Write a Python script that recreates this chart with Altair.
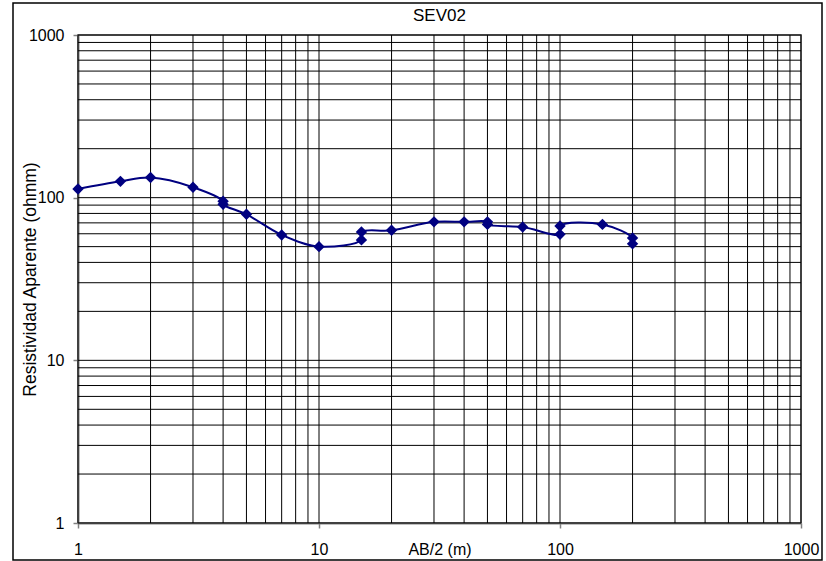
import altair as alt
import pandas as pd

# Data (Schlumberger sounding SEV02)
ab2 = [1, 1.5, 2, 3, 4, 4, 5, 7, 10, 15, 15, 20, 30, 40, 50, 50, 70, 100, 100, 150, 200, 200]
rho = [113, 126, 133, 116, 95, 91, 79, 59, 50, 55, 61.5, 63, 71, 71, 71, 68.5, 66, 59.5, 67, 68.5, 56.5, 52]

major_ticks = [1, 10, 100, 1000]
grid_vals = [m * d for d in [1, 10, 100] for m in range(1, 10)] + [1000]

df = pd.DataFrame({"ab2": ab2, "rho": rho, "order": list(range(len(ab2)))})
grid_df = pd.DataFrame({"g": grid_vals})

FONT = "Liberation Sans"
NAVY = "#000080"

xscale = alt.Scale(type="log", domain=[1, 1000], nice=False)
yscale = alt.Scale(type="log", domain=[1, 1000], nice=False)

frame = alt.Chart(alt.Data(values=[{}])).mark_rect(
    fill="white", fillOpacity=0, stroke="black", strokeWidth=1.5
).encode(
    x=alt.value(-65), x2=alt.value(744), y=alt.value(-32), y2=alt.value(525)
)

vgrid = alt.Chart(grid_df).mark_rule(color="black", strokeWidth=1).encode(
    x=alt.X("g:Q", scale=xscale,
            axis=alt.Axis(values=major_ticks, labelExpr="format(datum.value, 'd')",
                          title="AB/2 (m)", grid=False, tickSize=5, labelPadding=13,
                          labelBaseline="top", titleY=31, titleBaseline="alphabetic",
                          labelFlush=False, labelOverlap=False))
)
hgrid = alt.Chart(grid_df).mark_rule(color="black", strokeWidth=1).encode(
    y=alt.Y("g:Q", scale=yscale,
            axis=alt.Axis(values=major_ticks, labelExpr="format(datum.value, 'd')",
                          title="Resistividad Aparente (ohmm)", grid=False, tickSize=5,
                          labelPadding=9, titleX=-43, titleY=244, titleAngle=270,
                          titleBaseline="alphabetic", titleAlign="center",
                          labelFlush=False, labelOverlap=False, titleFontSize=17.5))
)

line = alt.Chart(df).mark_line(color=NAVY, strokeWidth=2, interpolate="catmull-rom").encode(
    x=alt.X("ab2:Q", scale=xscale),
    y=alt.Y("rho:Q", scale=yscale),
    order="order:O",
)
pts = alt.Chart(df).mark_point(shape="diamond", filled=True, color=NAVY, size=130, opacity=1).encode(
    x=alt.X("ab2:Q", scale=xscale),
    y=alt.Y("rho:Q", scale=yscale),
)

chart = alt.layer(frame, vgrid, hgrid, line, pts).properties(
    width=723, height=488,
    autosize=alt.AutoSizeParams(type="none"),
    padding={"left": 78, "top": 35, "right": 25, "bottom": 38},
    title=alt.TitleParams("SEV02", font=FONT, fontSize=17, fontWeight="normal",
                          color="black", anchor="middle", offset=0, dy=23),
).configure_view(
    stroke="#808080", strokeWidth=2
).configure_axis(
    domainColor="#808080", domainWidth=2, tickColor="#808080", tickWidth=1.5,
    labelFont=FONT, labelFontSize=16, labelColor="black",
    titleFont=FONT, titleFontSize=16, titleFontWeight="normal", titleColor="black",
)

chart.save("out.html", embed_options={"renderer": "svg", "actions": False})
